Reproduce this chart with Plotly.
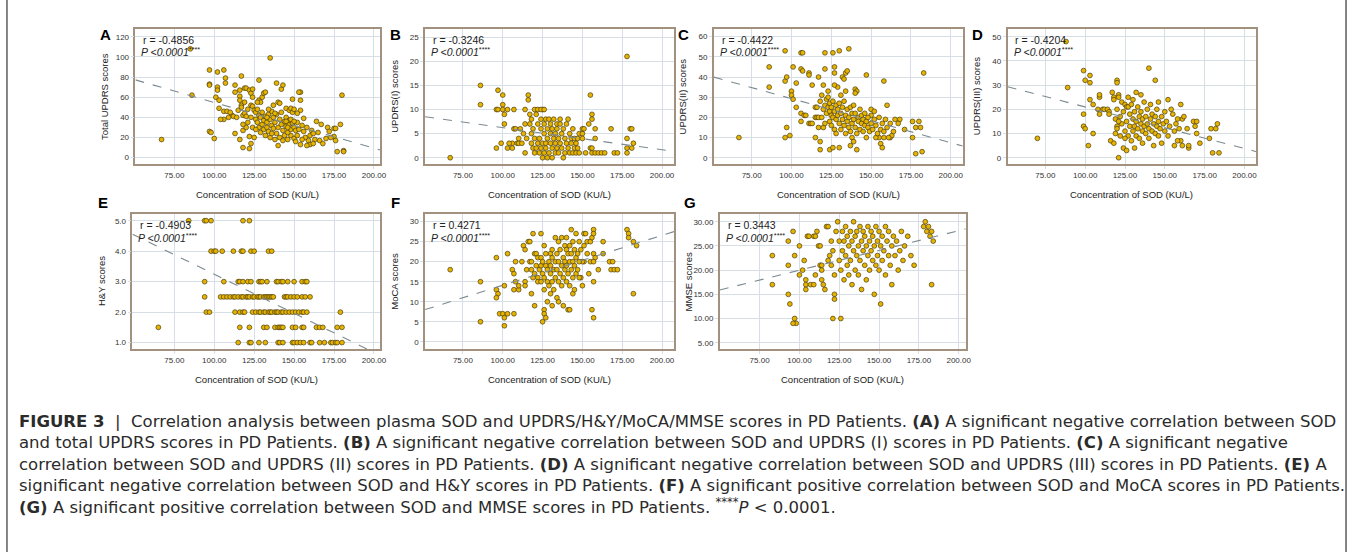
import plotly.graph_objects as go

W, H = 1356, 552

# ---------------- data ----------------
pts_A = [(67,18),(85,108),(86,62),(97,73),(97,72),(97,87),(97,26),(98,25),(100,19),(101,60),(102,85),(102,70),(102,67),(103,57),(103,49),(106,46),(106,87),(107,79),(107,74),(106,38),(108,46),(111,42),(112,41),(113,72),(113,65),(113,24),(116,18),(116,67),(116,61),(116,57),(117,52),(117,50),(117,81),(118,27),(118,10),(118,42),(119,44),(120,41),(119,69),(120,69),(122,67),(123,64),(124,68),(122,21),(123,14),(122,9),(123,52),(124,51),(125,47),(126,45),(127,48),(128,77),(128,57),(129,55),(130,60),(131,64),(132,65),(135,99),(139,74),(140,55),(141,54),(145,49),(147,47),(148,49),(148,22),(150,19),(151,16),(154,65),(154,57),(154,47),(156,39),(154,13),(159,17),(160,13),(164,36),(167,33),(166,17),(170,19),(175,29),(176,29),(175,21),(177,6),(180,62),(179,33),(176,17),(181,7),(181,6),
         (126,38),(127,35),(128,30),(128,42),(129,25),(129,40),(130,33),(130,45),(131,28),(131,37),(132,22),(132,41),(133,35),(133,30),(134,43),(134,26),(135,38),(135,20),(136,32),(136,46),(137,29),(137,40),(138,35),(138,18),(139,43),(139,24),(140,30),(141,38),(141,20),(142,33),(142,45),(143,27),(143,17),(144,36),(144,22),(145,31),(145,40),(146,25),(146,18),(147,33),(147,37),(148,28),(149,45),(149,34),(150,30),(150,48),(151,27),(152,44),(152,35),(153,28),(155,32),(156,26),(157,20),(158,30),(160,22),(161,27),(162,24),(163,18),(165,25),(168,14),(171,30),(172,26),(173,20),(120,30),(121,35),(123,40),(124,30),(125,20),(126,28),(127,55),(121,48),(119,55),(115,47),(114,40),(110,45),(109,40),(104,38),(118,33),(124,60),(133,40),(134,48),(136,24),(137,52),(140,12),(142,68),(143,72),(138,44),(145,36),(146,30),(148,38),(150,36),(152,22),(155,18),(158,12),(162,14),(149,58),(153,65)]

pts_B = [(67,0),(86,15),(86,11),(97,14),(96,10),(97,10),(96,2),(99,3),(100,13),(100,11),(100,10),(101,9),(101,7),(103,10),(103,2),(106,3),(106,2),(107,10),(107,6),(108,6),(109,3),(110,3),(110,4),(112,3),(113,5),(114,10),(114,7),(114,1),(116,13),(116,12),(117,9),(117,7),(118,8),(118,3),(118,5),(119,2),(119,6),(120,10),(120,4),(121,2),(121,9),(122,3),(122,7),(122,10),(123,1),(123,4),(124,6),(124,8),(124,2),(125,10),(125,3),(125,0),(126,5),(126,1),(126,7),(127,8),(127,3),(127,2),(128,6),(128,4),(128,0),(129,1),(129,8),(130,5),(130,3),(130,7),(131,2),(131,6),(131,0),(132,4),(132,8),(133,1),(133,5),(133,3),(134,7),(134,2),(134,6),(135,4),(135,1),(136,3),(136,7),(136,8),(137,2),(137,5),(138,6),(138,0),(139,4),(139,1),(140,3),(140,7),(141,8),(141,2),(142,5),(142,1),(143,4),(143,3),(144,6),(144,1),(145,2),(145,4),(146,1),(146,3),(147,4),(147,2),(148,1),(148,5),(150,5),(150,4),(150,6),(151,6),(152,1),(154,7),(155,13),(155,2),(156,9),(156,8),(156,2),(156,1),(158,6),(158,4),(158,1),(160,1),(162,1),(164,1),(168,6),(170,1),(172,1),(178,21),(178,4),(178,2),(178,1),(180,6),(181,6),(182,3),(181,2),(120,1),(115,4),(111,6),(104,3),(124,10),(126,10)]

pts_C = [(67,10),(86,45),(86,35),(96,53),(96,38),(97,40),(96,10),(97,15),(99,11),(100,33),(100,31),(101,29),(101,45),(103,25),(103,37),(106,52),(107,52),(106,44),(107,43),(106,22),(106,18),(108,21),(109,21),(111,42),(111,41),(111,17),(112,17),(113,17),(113,36),(115,10),(115,25),(116,25),(115,20),(116,20),(117,40),(117,20),(118,4),(117,15),(118,8),(121,52),(121,44),
         (126,52),(130,53),(136,54),(127,45),(127,42),(134,42),(135,43),(132,40),(133,39),(147,41),(158,38),(140,34),(141,33),(140,32),(183,42),(165,19),(168,19),(167,17),(176,18),(180,18),(178,15),(181,15),(176,10),(178,2),(182,3),(155,10),(158,10),(156,7),(157,5),(162,10),(163,11),(161,10),(171,14),(153,10),(150,24),(152,23),(150,21),(160,26),(143,24),(138,10),(139,8),(137,6),(141,4),(124,4),(126,5),(130,5),
         (120,24),(121,26),(122,29),(122,22),(123,25),(123,30),(124,23),(124,27),(124,18),(125,25),(125,21),(125,16),(126,28),(126,20),(127,23),(127,14),(128,26),(128,19),(128,12),(129,24),(129,21),(130,17),(130,27),(131,22),(131,14),(132,25),(132,19),(133,16),(133,28),(134,21),(134,12),(135,24),(135,18),(136,20),(136,15),(137,25),(137,13),(138,22),(138,17),(139,19),(139,26),(140,15),(140,22),(141,12),(142,20),(142,18),(143,14),(144,17),(144,21),(145,19),(145,13),(146,16),(146,22),(147,18),(147,10),(148,15),(148,20),(149,13),(150,17),(151,14),(152,19),(153,16),(154,12),(155,20),(156,14),(157,17),(158,13),(159,19),(160,15),(162,17),(164,13),(123,33),(129,35),(131,31),(134,33),(127,36),(119,20),(120,15),(121,17),(118,28),(119,31),(120,36)]

pts_D = [(70,8),(88,48),(89,29),(99,36),(100,32),(99,18),(99,13),(100,12),(102,5),(103,34),(103,31),(103,24),(105,22),(105,10),(108,20),(109,25),(109,26),(109,18),(111,20),(112,20),(114,20),(115,19),(115,18),(116,7),(118,6),(117,27),(118,25),(118,24),(120,32),(120,31),(121,26),(121,25),(121,0),(119,16),(120,13),(120,12),(123,23),(125,22),(124,4),(126,21),(127,21),(140,37),(144,32),(146,23),(152,24),(154,20),(160,22),(161,16),(162,17),(160,7),(161,5),(156,5),(158,7),(165,4),(165,5),(164,12),(168,15),(170,15),(169,13),(170,10),(172,6),(178,8),(179,12),(182,12),(183,14),(180,2),(184,2),
         (122,17),(123,14),(124,19),(125,11),(126,15),(127,9),(128,18),(128,13),(129,22),(129,7),(130,16),(130,11),(131,19),(131,13),(132,9),(132,15),(133,21),(133,12),(134,17),(134,8),(135,14),(135,19),(136,11),(136,16),(137,13),(137,23),(138,10),(138,17),(139,14),(139,20),(140,12),(140,8),(141,16),(141,22),(142,11),(142,18),(143,14),(143,5),(144,17),(144,10),(145,13),(145,20),(146,9),(146,15),(147,12),(148,17),(148,6),(149,14),(150,11),(150,19),(151,15),(152,9),(153,13),(155,18),(156,11),(157,14),(158,16),(159,12),(127,25),(130,24),(132,27),(135,26),(136,6),(131,4),(125,8),(126,3),(119,10),(122,9),(120,20),(121,15)]

hy_rows = {
    5.0: [84, 94, 95, 98, 118, 122],
    4.0: [98, 100, 101, 105, 112, 117, 118, 123, 125, 134, 136],
    3.0: [94, 106, 115, 116, 118, 121, 123, 128, 129, 130, 133, 139, 140, 142, 143, 146, 150, 155, 157, 158],
    2.5: [94, 104, 106, 108, 110, 112, 113, 115, 117, 118, 120, 121, 122, 124, 125, 127, 128, 129, 131, 132, 133, 134, 135, 136, 137, 144, 145, 146, 148, 150, 152, 155, 157, 160],
    2.0: [95, 97, 113, 116, 118, 119, 124, 126, 128, 129, 131, 132, 134, 135, 136, 138, 139, 140, 142, 143, 145, 147, 149, 151, 153, 155, 156, 158, 179],
    1.5: [65, 116, 122, 131, 133, 138, 140, 141, 142, 143, 149, 151, 155, 156, 164, 166, 168, 177, 180],
    1.0: [115, 122, 123, 128, 132, 140, 141, 143, 149, 150, 152, 154, 156, 160, 161, 166, 169, 173, 174, 176, 177, 180],
}
pts_E = [(x, y) for y, xs in hy_rows.items() for x in xs]

pts_F = [(67,18),(86,15),(86,5),(96,21),(96,13),(97,12),(96,11),(98,7),(100,7),(101,6),(101,4),(101,14),(103,22),(103,7),(106,18),(107,17),(107,7),(108,15),(108,20),(107,13),(110,13),(110,14),(112,20),(113,24),(114,23),(114,15),(114,14),(115,18),(116,25),(117,25),(117,20),(118,20),(118,12),(119,27),(120,9),(120,22),(121,22),(122,21),(124,21),(122,16),(122,15),(124,15),(125,5),(126,8),(126,7),(127,6),(126,24),(124,27),(130,22),(131,23),(131,9),(133,26),(135,10),(139,24),(140,23),(141,8),(142,8),(143,28),(146,27),(144,12),(145,13),(151,27),(152,27),(151,20),(149,16),(178,28),(179,27),(179,26),(182,25),(184,24),(182,12),(153,25),(155,25),(156,26),(157,28),(157,27),(149,23),(151,24),(153,22),(157,22),(158,21),(155,20),(157,20),(150,20),(148,20),(163,22),(163,25),(167,20),(169,20),(168,18),(170,18),(172,18),(160,18),(154,17),(157,15),(150,14),(156,8),(157,6),
         (123,18),(124,19),(125,17),(125,20),(126,13),(126,16),(127,19),(127,22),(128,15),(128,18),(129,20),(129,14),(130,17),(130,19),(131,15),(131,21),(132,18),(132,13),(133,20),(133,16),(134,22),(134,18),(135,15),(135,20),(136,17),(136,23),(137,19),(137,14),(138,21),(138,16),(139,18),(139,20),(140,15),(140,19),(141,22),(141,17),(142,20),(142,14),(143,18),(143,22),(144,16),(144,20),(145,19),(145,23),(146,17),(146,21),(147,22),(147,18),(148,25),(148,16),(135,25),(137,26),(140,26),(142,24),(144,25),(128,10),(130,12),(134,11),(138,9),(120,17),(121,19),(119,16),(118,18)]

pts_G = [(83,23),(83,17),(93,26),(93,21),(93,15),(94,13),(96,28),(97,23),(97,10),(98,9),(96,9),(100,25),(100,19),(102,20),(103,22),(104,18),(104,17),(104,16),(105,27),(106,27),(107,17),(109,17),(109,27),(110,27),(110,19),(111,28),(112,25),(113,25),(113,21),(114,21),(114,20),(114,18),(115,17),(116,16),(117,29),(118,29),
         (124,30),(125,26),(125,22),(126,20),(126,10),(127,28),(127,24),(128,18),(128,26),(129,23),(129,29),(130,21),(130,27),(131,25),(131,19),(132,28),(132,22),(133,26),(133,17),(134,24),(134,30),(135,20),(135,27),(136,23),(136,28),(137,25),(137,19),(138,29),(138,22),(139,26),(139,16),(140,24),(140,28),(141,21),(141,27),(142,25),(142,18),(143,29),(143,23),(144,26),(144,20),(145,28),(145,24),(146,22),(146,27),(147,25),(147,15),(148,29),(148,21),(149,26),(149,23),(150,28),(150,20),(151,25),(151,13),(152,27),(152,22),(153,24),(154,29),(154,19),(155,26),(156,23),(156,28),(157,21),(158,25),(158,17),(159,27),(160,23),(161,26),(162,20),(163,24),(164,28),(165,22),(166,25),(168,27),(170,23),(172,21),(178,29),(179,30),(180,28),(181,29),(182,27),(183,28),(184,26),(183,17),(119,23),(120,26),(121,24),(122,19),(121,10),(122,15),(122,14),(123,28),(120,21),(118,22)]

# regression lines: (intercept, slope)
fit = {"A": (100.13, -0.4536), "B": (10.85, -0.046), "C": (51.14, -0.2185), "D": (38.17, -0.1719),
       "E": (5.81, -0.02566), "F": (1.65, 0.1246), "G": (11.82, 0.0816)}
stats = {"A": "-0.4856", "B": "-0.3246", "C": "-0.4422", "D": "-0.4204", "E": "-0.4903", "F": "0.4271", "G": "0.3443"}
ytitles = {"A": "Total UPDRS scores", "B": "UPDRS(I) scores", "C": "UPDRS(II) scores", "D": "UPDRS(III) scores",
           "E": "H&amp;Y scores", "F": "MoCA scores", "G": "MMSE scores"}
yticks = {"A": [0, 20, 40, 60, 80, 100, 120], "B": [0, 5, 10, 15, 20, 25], "C": [0, 10, 20, 30, 40, 50, 60],
          "D": [0, 10, 20, 30, 40, 50], "E": [1, 2, 3, 4, 5], "F": [0, 5, 10, 15, 20, 25, 30],
          "G": [5, 10, 15, 20, 25, 30]}
yfmt = {"A": "d", "B": "d", "C": "d", "D": "d", "E": ".1f", "F": "d", "G": ".2f"}
yranges = {"A": [-6.3, 127.7], "B": [-1.3, 26.7], "C": [-3.1, 63.8], "D": [-2.6, 53.2], "E": [0.79, 5.22],
           "F": [-1.8, 31.9], "G": [3.7, 31.6]}
xticks = [75, 100, 125, 150, 175, 200]
xranges = {"A": [50.6, 204], "B": [51.25, 207.5], "C": [51.25, 207.5], "D": [51.25, 207.5], "E": [48.75, 204],
           "F": [51.25, 207.5], "G": [50, 204.4]}
xtitle = "Concentration of SOD (KU/L)"

caption = [
    "<b>FIGURE 3</b>  |  Correlation analysis between plasma SOD and UPDRS/H&amp;Y/MoCA/MMSE scores in PD Patients. <b>(A)</b> A significant negative correlation between SOD",
    "and total UPDRS scores in PD Patients. <b>(B)</b> A significant negative correlation between SOD and UPDRS (I) scores in PD Patients. <b>(C)</b> A significant negative",
    "correlation between SOD and UPDRS (II) scores in PD Patients. <b>(D)</b> A significant negative correlation between SOD and UPDRS (III) scores in PD Patients. <b>(E)</b> A",
    "significant negative correlation between SOD and H&amp;Y scores in PD Patients. <b>(F)</b> A significant positive correlation between SOD and MoCA scores in PD Patients.",
    "<b>(G)</b> A significant positive correlation between SOD and MMSE scores in PD Patients. <sup>****</sup><i>P</i> &lt; 0.0001.",
]

# ---------------- layout (pixel boxes) ----------------
boxes = {"A": (136, 382, 29, 164), "B": (427, 677, 29, 164), "C": (717, 967, 29, 164), "D": (1012, 1262, 29, 164),
         "E": (133, 382, 214, 349), "F": (427, 677, 214, 349), "G": (723, 970, 214, 349)}
data = {"A": pts_A, "B": pts_B, "C": pts_C, "D": pts_D, "E": pts_E, "F": pts_F, "G": pts_G}

def px(x):
    return x / W

def py(y):
    return 1 - y / H

fig = go.Figure()
layout = dict(width=W, height=H, margin=dict(l=0, r=0, t=0, b=0), autosize=False,
              paper_bgcolor="white", plot_bgcolor="white", showlegend=False)
annotations = []
shapes = []

FR = "#a3917f"
GRID = "#d6dee6"
TF = dict(family="Liberation Sans, Arial", size=8, color="#333")
for i, k in enumerate("ABCDEFG"):
    n = "" if i == 0 else str(i + 1)
    x0, x1, y0, y1 = boxes[k]
    layout["xaxis" + n] = dict(domain=[px(x0), px(x1)], range=xranges[k], anchor="y" + n,
                               tickvals=xticks, tickformat=".2f", showgrid=True, gridcolor=GRID, gridwidth=1.3,
                               showline=True, linecolor=FR, linewidth=1.5, mirror=True, zeroline=False,
                               ticks="outside", ticklen=3, tickcolor=GRID, tickfont=TF)
    layout["yaxis" + n] = dict(domain=[py(y1), py(y0)], range=yranges[k], anchor="x" + n,
                               tickvals=yticks[k], tickformat=yfmt[k], showgrid=True, gridcolor=GRID, gridwidth=1.3,
                               showline=True, linecolor=FR, linewidth=1.5, mirror=True, zeroline=False,
                               ticks="outside", ticklen=3, tickcolor=GRID, tickfont=TF)
    xs = [p[0] for p in data[k]]
    ys = [p[1] for p in data[k]]
    fig.add_trace(go.Scatter(x=xs, y=ys, mode="markers", xaxis="x" + n, yaxis="y" + n,
                             marker=dict(size=4.8, color="#e6b400", line=dict(color="#4a3c08", width=0.7)),
                             hoverinfo="skip"))
    b0, m = fit[k]
    lx = [xranges[k][0], xranges[k][1]]
    fig.add_trace(go.Scatter(x=lx, y=[b0 + m * v for v in lx], mode="lines", xaxis="x" + n, yaxis="y" + n,
                             line=dict(color="#7d8a90", width=1.1, dash="dash"), hoverinfo="skip"))
    annotations.append(dict(x=px(x0 + 6), y=py(y0 + 11), xref="paper", yref="paper", xanchor="left", yanchor="middle",
                            text="r = " + stats[k], showarrow=False,
                            font=dict(family="Liberation Sans, Arial", size=10.5, color="#222")))
    annotations.append(dict(x=px(x0 + 4), y=py(y0 + 23), xref="paper", yref="paper", xanchor="left", yanchor="middle",
                            text="<i>P &lt;0.0001</i><sup>****</sup>", showarrow=False,
                            font=dict(family="Liberation Sans, Arial", size=10.5, color="#222")))
    annotations.append(dict(x=px(x0 - 31), y=py((y0 + y1) / 2), xref="paper", yref="paper", xanchor="center",
                            yanchor="middle", textangle=-90, text=ytitles[k], showarrow=False,
                            font=dict(family="Liberation Sans, Arial", size=9.5, color="#222")))
    annotations.append(dict(x=px((x0 + x1) / 2), y=py(y1 + 30), xref="paper", yref="paper", xanchor="center",
                            yanchor="middle", text=xtitle, showarrow=False,
                            font=dict(family="Liberation Sans, Arial", size=9.5, color="#222")))
    annotations.append(dict(x=px(x0 - 30), y=py(y0 + 6 if y0 < 100 else y0 - 12), xref="paper", yref="paper",
                            xanchor="center", yanchor="middle", text="<b>" + k + "</b>", showarrow=False,
                            font=dict(family="Liberation Sans, Arial", size=15, color="#000")))

# caption as one multi-line block (line pitch = 1.3 x font size ~ 21 px)
annotations.append(dict(x=px(17), y=py(422 + 21 * 2), xref="paper", yref="paper", xanchor="left", align="left",
                        yanchor="middle", text="<br>".join(caption), showarrow=False,
                        font=dict(family="DejaVu Sans", size=16.5, color="#2b2b2b")))

for xx in (7, 1352):
    shapes.append(dict(type="line", xref="paper", yref="paper", x0=px(xx), x1=px(xx), y0=0, y1=1,
                       line=dict(color="#333", width=1.2)))

layout["annotations"] = annotations
layout["shapes"] = shapes
fig.update_layout(**layout)
# remove the default page margin so the figure sits at the window's top-left corner
fig.write_html("out.html", config={"displayModeBar": False},
               post_script="document.body.style.margin='0';")
